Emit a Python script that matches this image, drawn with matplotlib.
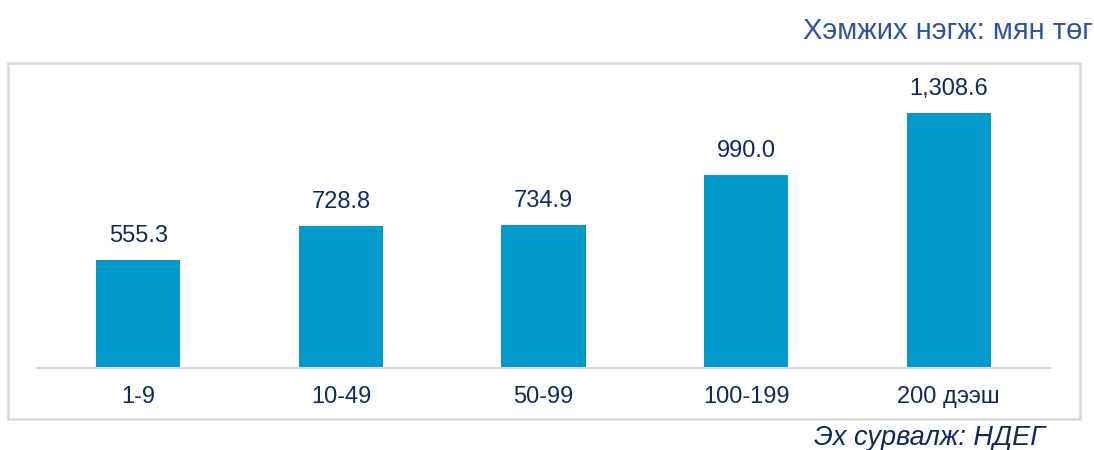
import numpy as np
import matplotlib.pyplot as plt
from matplotlib.patches import Rectangle

plt.rcParams['font.family'] = ['Liberation Sans', 'DejaVu Sans']

categories = ['1-9', '10-49', '50-99', '100-199', '200 дээш']
values = [555.3, 728.8, 734.9, 990.0, 1308.6]
value_labels = ['555.3', '728.8', '734.9', '990.0', '1,308.6']

bar_color = '#009bcb'
navy = '#112a5c'
unit_color = '#2e54a0'
grey = '#d9d9d9'

fig = plt.figure(figsize=(10.94, 4.5), dpi=100)
ax = fig.add_axes([37/1094, 82/450, 1013/1094, 298/450])

x = np.arange(len(categories))
ax.bar(x, values, width=0.415, color=bar_color)
for xi, v, lab in zip(x, values, value_labels):
    ax.annotate(lab, (xi, v), xytext=(0, 17.5), textcoords='offset points',
                ha='center', va='center', fontsize=17, color=navy)

ax.set_xlim(-0.5, len(categories) - 0.5)
ax.set_ylim(0, 1530)
ax.set_yticks([])
ax.set_xticks(x)
ax.set_xticklabels(categories, fontsize=17, color=navy)
ax.tick_params(axis='x', length=0, pad=13)
for s in ['top', 'left', 'right']:
    ax.spines[s].set_visible(False)
ax.spines['bottom'].set_color(grey)
ax.spines['bottom'].set_linewidth(1.5)

# frame around the plot area
fig.patches.append(Rectangle((8/1094, 31/450), 1072/1094, 356/450,
                             transform=fig.transFigure, fill=False,
                             edgecolor=grey, linewidth=1.8))

fig.text(1093/1094, 1 - 31/450, 'Хэмжих нэгж: мян төг', ha='right', va='center',
         fontsize=21, color=unit_color)
fig.text(1045/1094, 1 - 438/450, 'Эх сурвалж: НДЕГ', ha='right', va='center',
         fontsize=19.5, color=navy, style='italic')

fig.savefig('out.png', dpi=100)
